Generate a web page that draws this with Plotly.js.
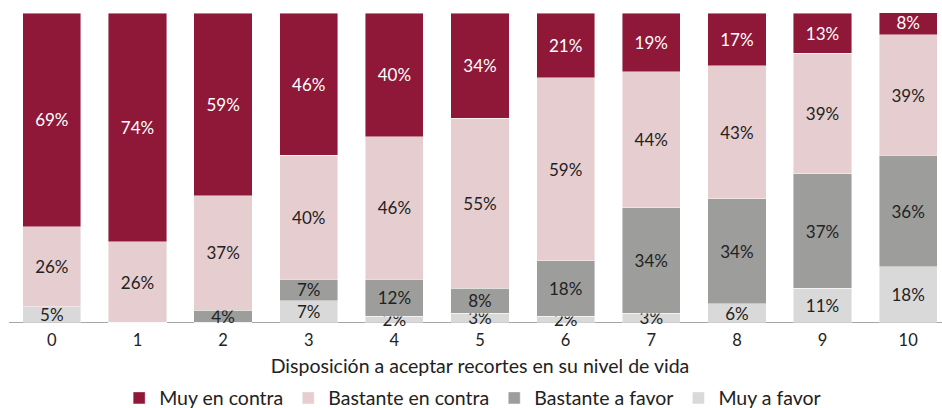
<!DOCTYPE html>
<html>
<head>
<meta charset="utf-8">
<script src="https://cdn.plot.ly/plotly-3.0.1.min.js"></script>
<style>
html,body{margin:0;padding:0;overflow:hidden;background:#fff;}
#chart{width:951px;height:408px;}
</style>
</head>
<body>
<div id="chart"></div>
<script>
const categories = ["0","1","2","3","4","5","6","7","8","9","10"];
const muyAFavor        = [5, 0, 0, 7, 2, 3, 2, 3, 6, 11, 18];
const bastanteAFavor   = [0, 0, 4, 7, 12, 8, 18, 34, 34, 37, 36];
const bastanteEnContra = [26, 26, 37, 40, 46, 55, 59, 44, 43, 39, 39];
const muyEnContra      = [69, 74, 59, 46, 40, 34, 21, 19, 17, 13, 8];
const seriesNames = ["Muy a favor", "Bastante a favor", "Bastante en contra", "Muy en contra"];
const xTitle = "Disposición a aceptar recortes en su nivel de vida";

const colors = ["#D9D9D9", "#9D9D9C", "#E6CDCF", "#8F1838"];
const textColors = ["#222222", "#222222", "#222222", "#ffffff"];
const allSeries = [muyAFavor, bastanteAFavor, bastanteEnContra, muyEnContra];

const FONT = "Lato, 'Open Sans', sans-serif";

const traces = allSeries.map((vals, i) => ({
  type: "bar",
  name: seriesNames[i],
  x: categories,
  y: vals,
  text: vals.map(v => v > 0 ? v + "%" : ""),
  textposition: "inside",
  insidetextanchor: "middle",
  constraintext: "none",
  textangle: 0,
  textfont: {family: FONT, size: 17, color: textColors[i]},
  marker: {color: colors[i], line: {color: "rgba(255,255,255,0.55)", width: 0.8}},
  hoverinfo: "skip"
}));

const layout = {
  width: 951,
  height: 408,
  barmode: "stack",
  bargap: 0.32,
  margin: {l: 9, r: 0, t: 13, b: 80, autoexpand: false},
  paper_bgcolor: "#fff",
  plot_bgcolor: "#fff",
  font: {family: FONT, color: "#222222", size: 16},
  showlegend: true,
  legend: {
    orientation: "h",
    traceorder: "reversed",
    xref: "container",
    yref: "container",
    x: 0.497, xanchor: "center",
    y: 0.024, yanchor: "middle",
    font: {family: FONT, size: 19.5, color: "#222222"},
    itemclick: false
  },
  xaxis: {
    type: "category",
    automargin: false,
    showline: false,
    ticks: "",
    showgrid: false,
    zeroline: false,
    tickfont: {family: FONT, size: 16.5, color: "#222222"},
    title: {text: xTitle, font: {family: FONT, size: 19.5, color: "#222222"}, standoff: 10}
  },
  yaxis: {
    range: [-1.8, 100],
    automargin: false,
    showticklabels: false,
    ticks: "",
    showline: false,
    showgrid: false,
    zeroline: true,
    zerolinecolor: "#A6A6A6",
    zerolinewidth: 1.5
  }
};

Plotly.newPlot("chart", traces, layout, {displayModeBar: false, staticPlot: true});
</script>
</body>
</html>
